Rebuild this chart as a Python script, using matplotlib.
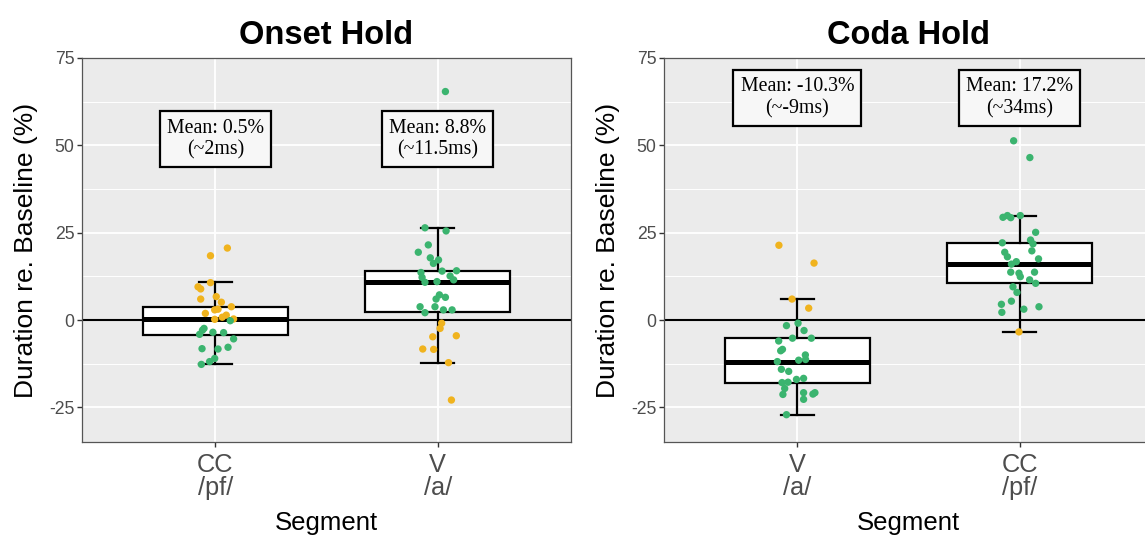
import matplotlib.pyplot as plt
from matplotlib.ticker import MultipleLocator

# colours
ORANGE = "#F0B31E"
GREEN = "#3BB46F"

# ---- Onset Hold ----
onset_cats = ["CC\n/pf/", "V\n/a/"]
onset_cc_vals = [20.6, 18.4, 10.7, 9.5, 8.9, 6.0, 6.7, 5.1, 3.8, 1.9, 2.9, 3.1, 1.4, 0.8, 0.2, 0.3,
                 -0.2, -2.4, -2.9, -4.1, -3.5, -3.6, -5.4, -8.2, -8.3, -7.8, -11.0, -11.9, -12.7]
onset_cc_jit = [0.054, -0.022, -0.022, -0.078, -0.066, -0.066, 0.004, 0.027, 0.072, -0.045, -0.003, 0.012,
                0.049, 0.031, -0.003, 0.082,
                0.067, -0.051, -0.058, -0.071, -0.011, 0.037, 0.082, -0.060, 0.012, 0.057, -0.003, -0.026, -0.063]
onset_cc_grp = ["o"] * 16 + ["g"] * 13
onset_v_vals = [65.4, 26.4, 25.5, 21.5, 19.4, 17.8, 17.2, 16.2, 14.0, 14.1, 13.6, 12.6, 12.2, 11.5, 10.8, 11.0,
                7.2, 6.5, 6.0, 3.8, 3.8, 2.9, 2.9, 2.1,
                -0.9, -2.4, -4.8, -4.5, -8.3, -8.4, -12.2, -22.9]
onset_v_jit = [0.035, -0.057, 0.038, -0.042, -0.087, -0.033, 0.004, -0.019, 0.020, 0.085, -0.075, 0.056,
               -0.070, 0.072, -0.057, -0.003, 0.008, 0.035, -0.007, -0.079, -0.012, 0.026, 0.065, -0.057,
               0.018, 0.011, -0.022, 0.084, -0.067, -0.018, 0.049, 0.062]
onset_v_grp = ["g"] * 24 + ["o"] * 8
# box stats: whislo, q1, med, q3, whishi
onset_boxes = [[-12.7, -4.3, 0.4, 3.8, 10.8], [-12.2, 2.2, 10.8, 14.1, 26.4]]
onset_labels = ["Mean: 0.5%\n(~2ms)", "Mean: 8.8%\n(~11.5ms)"]
onset_label_y = 51.8

# ---- Coda Hold ----
coda_cats = ["V\n/a/", "CC\n/pf/"]
coda_v_vals = [21.4, 16.3, 6.0, 3.4,
               -0.9, -1.6, -3.0, -5.2, -5.2, -6.0, -8.4, -8.8, -10.0, -11.3, -11.5, -11.9, -14.1, -14.7,
               -17.0, -16.7, -17.8, -17.9, -19.6, -21.3, -20.8, -21.2, -20.8, -22.7, -27.1]
coda_v_jit = [-0.083, 0.075, -0.024, 0.051,
              0.003, -0.049, 0.030, -0.022, 0.063, -0.084, -0.067, -0.075, 0.036, 0.037, 0.006, -0.090,
              -0.072, -0.039, -0.004, 0.028, -0.042, -0.069, -0.057, -0.065, 0.028, 0.070, 0.079, 0.028, -0.049]
coda_v_grp = ["o"] * 4 + ["g"] * 25
coda_cc_vals = [51.3, 46.5, 29.4, 29.9, 29.3, 29.9, 25.1, 22.1, 22.9, 21.8, 19.8, 19.4, 18.1, 17.5, 16.7,
                16.0, 13.7, 13.7, 13.4, 12.4, 11.5, 10.5, 9.5, 7.9, 5.4, 4.5, 3.8, 3.1, 2.2, -3.4]
coda_cc_jit = [-0.027, 0.046, -0.075, -0.055, -0.040, 0.003, 0.072, -0.078, 0.049, 0.060, 0.055, -0.067,
               -0.055, 0.085, -0.015, -0.037, 0.067, -0.040, -0.003, 0.003, 0.045, 0.072, -0.030, -0.012,
               -0.037, -0.082, 0.087, 0.019, -0.080, -0.003]
coda_cc_grp = ["g"] * 29 + ["o"]
coda_boxes = [[-27.1, -18.1, -11.9, -5.2, 6.0], [-3.4, 10.5, 15.9, 22.1, 29.9]]
coda_labels = ["Mean: -10.3%\n(~-9ms)", "Mean: 17.2%\n(~34ms)"]
coda_label_y = 63.6

plt.rcParams["font.family"] = ["Liberation Sans", "DejaVu Sans"]
plt.rcParams["axes.unicode_minus"] = False

fig = plt.figure(figsize=(11.45, 5.36), dpi=100)
W, H = 1145, 536
ax1 = fig.add_axes([82 / W, (H - 442.3) / H, 489 / W, 384.3 / H])
ax2 = fig.add_axes([664 / W, (H - 442.3) / H, 489 / W, 384.3 / H])


def draw_panel(ax, title, cats, groups, boxes, labels, label_y):
    ax.set_facecolor("#EBEBEB")
    ax.set_xlim(0.4, 2.6)
    ax.set_ylim(-35, 75)
    ax.yaxis.set_major_locator(MultipleLocator(25))
    ax.yaxis.set_minor_locator(MultipleLocator(12.5))
    ax.set_xticks([1, 2])
    ax.set_xticklabels(cats, linespacing=0.95)
    ax.grid(True, which="major", color="white", lw=1.3)
    ax.grid(True, which="minor", axis="y", color="white", lw=0.7)
    ax.set_axisbelow(True)
    for s in ax.spines.values():
        s.set_color("#555555")
        s.set_linewidth(0.9)
    ax.tick_params(axis="y", which="major", length=3.5, width=1, color="#333333",
                   labelsize=12.7, labelcolor="#4D4D4D", pad=2)
    ax.tick_params(axis="x", which="major", length=3.5, width=1, color="#333333",
                   labelsize=18.3, labelcolor="#4D4D4D", pad=4)
    ax.tick_params(which="minor", length=0)

    ax.axhline(0, color="black", lw=1.5, zorder=1)

    stats = []
    for b in boxes:
        stats.append({"whislo": b[0], "q1": b[1], "med": b[2], "q3": b[3], "whishi": b[4]})
    ax.bxp(stats, positions=[1, 2], widths=0.65, capwidths=0.15, showfliers=False,
           patch_artist=True, manage_ticks=False,
           boxprops=dict(facecolor="white", edgecolor="black", lw=1.6),
           whiskerprops=dict(color="black", lw=1.6),
           capprops=dict(color="black", lw=1.6),
           medianprops=dict(color="black", lw=3.6, solid_capstyle="butt"),
           zorder=2)

    for pos, (vals, jit, grp) in enumerate(groups, start=1):
        for v, j, g in zip(vals, jit, grp):
            ax.scatter(pos + j, v, s=28, color=ORANGE if g == "o" else GREEN,
                       edgecolors="none", zorder=3)

    for pos, txt in enumerate(labels, start=1):
        ax.text(pos, label_y, txt, ha="center", va="center", fontsize=14.3,
                family=["Liberation Serif", "DejaVu Serif"], linespacing=1.2, zorder=4,
                bbox=dict(boxstyle="square,pad=0.36", facecolor="#F7F7F7",
                          edgecolor="black", lw=1.6))

    ax.set_title(title, fontsize=23.5, fontweight="bold", pad=10)
    ax.set_xlabel("Segment", fontsize=18.5, labelpad=8)
    ax.set_ylabel("Duration re. Baseline (%)", fontsize=19)
    ax.yaxis.set_label_coords(-0.09, 0.5)


draw_panel(ax1, "Onset Hold", onset_cats,
           [(onset_cc_vals, onset_cc_jit, onset_cc_grp), (onset_v_vals, onset_v_jit, onset_v_grp)],
           onset_boxes, onset_labels, onset_label_y)
draw_panel(ax2, "Coda Hold", coda_cats,
           [(coda_v_vals, coda_v_jit, coda_v_grp), (coda_cc_vals, coda_cc_jit, coda_cc_grp)],
           coda_boxes, coda_labels, coda_label_y)

fig.savefig("out.png", dpi=100)
